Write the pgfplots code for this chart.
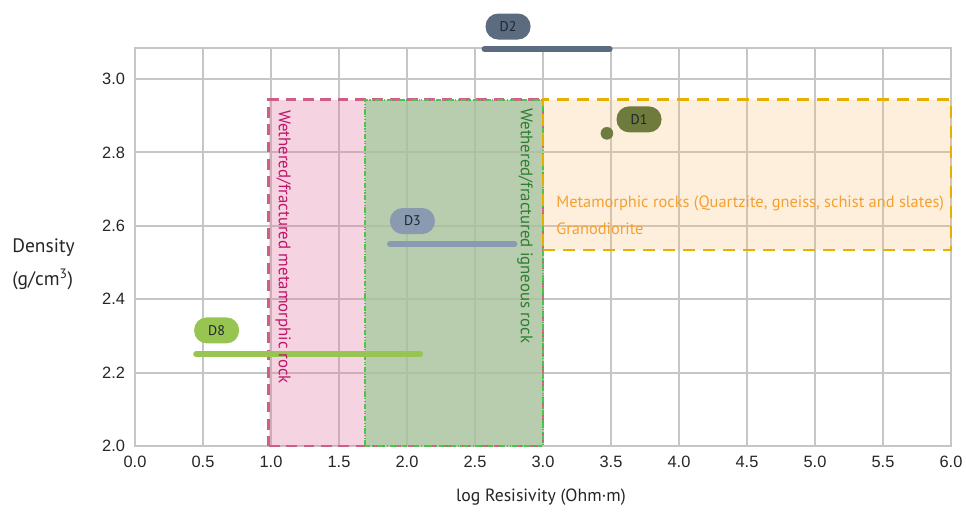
\documentclass[border=0pt]{standalone}
\usepackage{fontspec}
\setmainfont{PT Sans}
\newfontfamily\arialf{Liberation Sans}
\usepackage{pgfplots}
\pgfplotsset{compat=1.18}
\definecolor{gridgray}{HTML}{C6C6C6}
\definecolor{pinkfill}{HTML}{E07AA0}
\definecolor{pinkline}{HTML}{CF5E86}
\definecolor{greenfill}{HTML}{9FCA9A}
\definecolor{greenline}{HTML}{4FC24F}
\definecolor{orangefill}{HTML}{F8C070}
\definecolor{goldline}{HTML}{E5B000}
\definecolor{magtext}{HTML}{C0146A}
\definecolor{grntext}{HTML}{2E7D32}
\definecolor{orgtext}{HTML}{F5A033}
\definecolor{dtwo}{HTML}{5B6B80}
\definecolor{done}{HTML}{6E7B3C}
\definecolor{dthree}{HTML}{8A9AB0}
\definecolor{deight}{HTML}{98C451}
\definecolor{badgetext}{HTML}{1E2532}
\begin{document}
\begin{tikzpicture}
\useasboundingbox (-101.25pt,-50.25pt) rectangle (623.25pt,334.5pt);
\begin{axis}[
  at={(0,0)}, anchor=south west,
  scale only axis, width=612pt, height=298.5pt,
  xmin=0, xmax=6, ymin=2, ymax=3.0845,
  xtick={0,0.5,...,6}, ytick={2.0,2.2,2.4,2.6,2.8,3.0},
  xticklabel style={/pgf/number format/.cd,fixed,fixed zerofill,precision=1,assume math mode=true},
  yticklabel style={/pgf/number format/.cd,fixed,fixed zerofill,precision=1,assume math mode=true},
  ticklabel style={font=\arialf\fontsize{12.3}{14}\selectfont, text=black!85},
  major tick length=0pt,
  grid=major,
  major grid style={draw=gridgray, line width=1.5pt},
  axis line style={draw=gridgray, line width=1.5pt},
  xticklabel shift=4pt,
  yticklabel shift=4pt,
  clip=false,
]
% regions
\addplot[fill=pinkfill, fill opacity=0.33, draw=none] coordinates {(0.985,2.0) (3.0,2.0) (3.0,2.943) (0.985,2.943)} -- cycle;
\addplot[fill=greenfill, fill opacity=0.7, draw=none] coordinates {(1.691,2.0) (3.0,2.0) (3.0,2.943) (1.691,2.943)} -- cycle;
\addplot[fill=orangefill, fill opacity=0.25, draw=none] coordinates {(3.0,2.534) (6.0,2.534) (6.0,2.943) (3.0,2.943)} -- cycle;
\addplot[draw=pinkline, line width=2.2pt, dash pattern=on 8pt off 5pt] coordinates {(0.985,2.0) (3.0,2.0) (3.0,2.943) (0.985,2.943)} -- cycle;
\addplot[draw=greenline, line width=1.1pt, dash pattern=on 4pt off 1.2pt on 0.8pt off 1.2pt on 0.8pt off 1.2pt] coordinates {(1.691,2.0) (3.0,2.0) (3.0,2.943) (1.691,2.943)} -- cycle;
\addplot[draw=goldline, line width=2.2pt, dash pattern=on 9pt off 6pt] coordinates {(3.0,2.534) (6.0,2.534) (6.0,2.943) (3.0,2.943)} -- cycle;
% data
\addplot[draw=dtwo, line width=4.5pt, line cap=round] coordinates {(2.57,3.082) (3.49,3.082)};
\addplot[draw=dthree, line width=4.5pt, line cap=round] coordinates {(1.875,2.550) (2.79,2.550)};
\addplot[draw=deight, line width=4.5pt, line cap=round] coordinates {(0.45,2.250) (2.096,2.250)};
\addplot[only marks, mark=*, mark size=4.5pt, color=done] coordinates {(3.47,2.852)};
% badges
\tikzset{badge/.style={rounded corners=9.5pt, minimum width=33.75pt, minimum height=19.5pt, inner sep=0pt, text=badgetext, font=\fontsize{10.5}{12}\selectfont}}
\node[badge, fill=dtwo] at (axis cs:2.743,3.143) {D2};
\node[badge, fill=done] at (axis cs:3.706,2.890) {D1};
\node[badge, fill=dthree] at (axis cs:2.04,2.613) {D3};
\node[badge, fill=deight] at (axis cs:0.60,2.315) {D8};
% region texts
\node[rotate=-90, anchor=west, inner sep=0pt, text=magtext, font=\fontsize{12.6}{14}\selectfont] at (axis cs:1.09,2.916) {Wethered/fractured metamorphic rock};
\node[rotate=-90, anchor=west, inner sep=0pt, text=grntext, font=\fontsize{12.6}{14}\selectfont] at (axis cs:2.868,2.921) {Wethered/fractured igneous rock};
\node[anchor=west, inner sep=0pt, text=orgtext, font=\fontsize{12.3}{14}\selectfont] at (axis cs:3.096,2.662) {Metamorphic rocks (Quartzite, gneiss, schist and slates)};
\node[anchor=west, inner sep=0pt, text=orgtext, font=\fontsize{12.3}{14}\selectfont] at (axis cs:3.096,2.591) {Granodiorite};
% axis labels
\node[align=left, anchor=west, inner sep=0pt, text=black!85, font=\fontsize{14.6}{24.75}\selectfont] at (axis cs:-0.904,2.495) {Density\\(g/cm\textsuperscript{3})};
\node[text=black!85, font=\fontsize{13.3}{15}\selectfont] at (axis cs:2.985,1.861) {log Resisivity (Ohm·m)};
\end{axis}
\end{tikzpicture}
\end{document}
